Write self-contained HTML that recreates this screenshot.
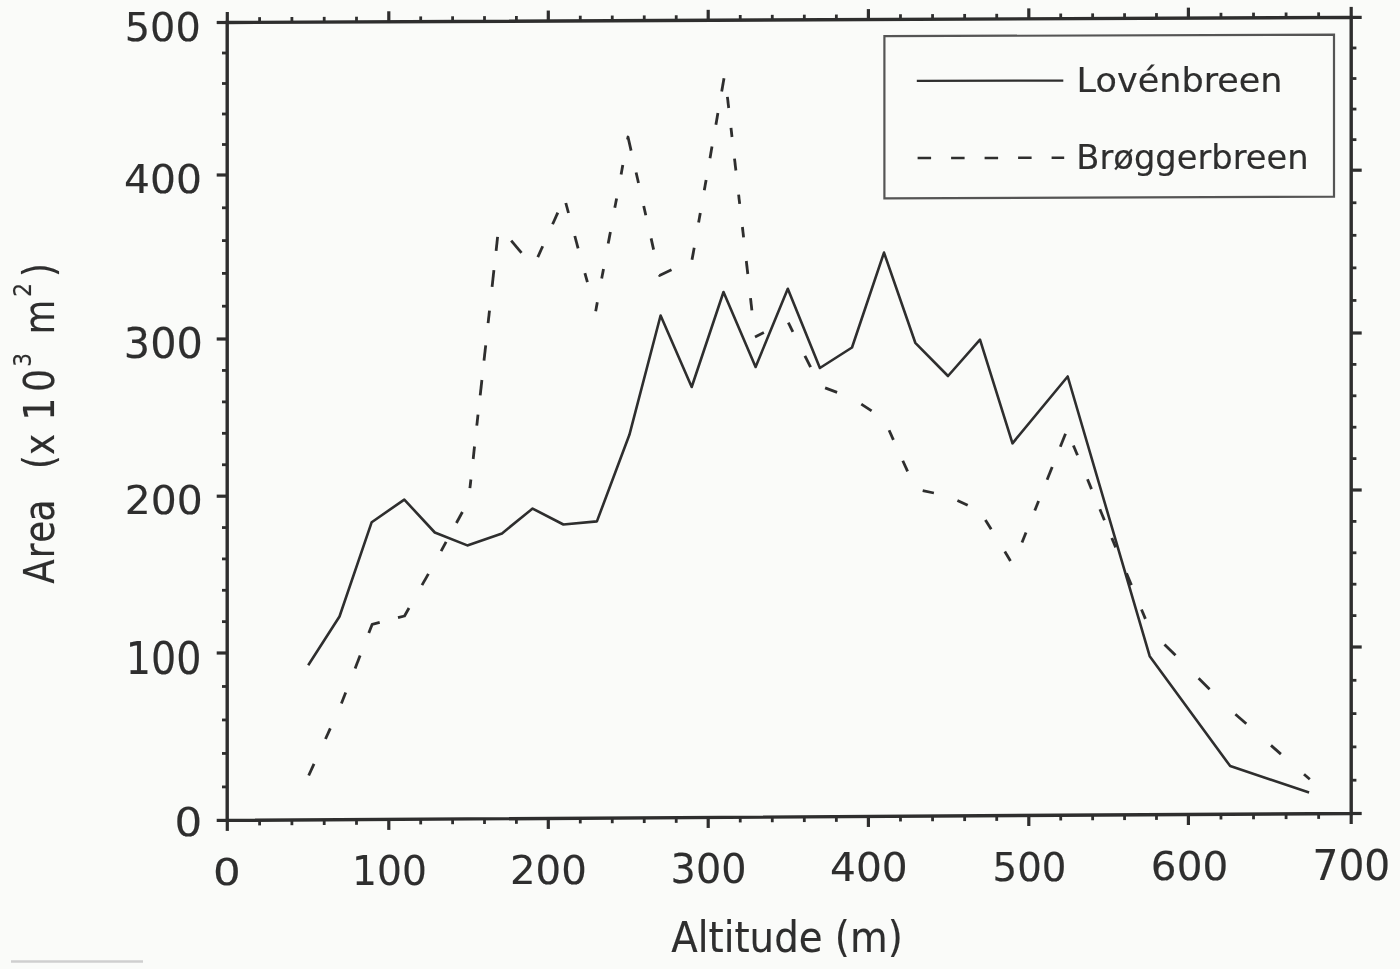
<!DOCTYPE html>
<html><head><meta charset="utf-8"><title>Area-altitude distribution</title>
<style>
html,body{margin:0;padding:0;background:#fafbf9;}
svg{display:block;}
text{font-family:"DejaVu Sans","Liberation Sans",sans-serif;fill:#2e2e2e;stroke:#2e2e2e;stroke-width:0.15px;}
</style></head>
<body>
<svg width="1400" height="969" viewBox="0 0 1400 969">
<rect width="1400" height="969" fill="#fafbf9"/>
<g>
<line x1="11" y1="961.5" x2="143" y2="961.5" stroke="#cfcfcf" stroke-width="2.4"/>
<g stroke="#2e2e2e" stroke-linecap="butt">
<path d="M227.2,22.50 L227.2,820.40 L1351.2,813.50 L1351.2,17.40 Z" fill="none" stroke-width="3.4" stroke-linejoin="miter"/>
<line x1="227.30" y1="820.40" x2="227.30" y2="830.90" stroke-width="3.2"/>
<line x1="227.30" y1="22.50" x2="227.30" y2="12.00" stroke-width="3.2"/>
<line x1="259.60" y1="820.20" x2="259.60" y2="825.40" stroke-width="2.8"/>
<line x1="259.60" y1="22.35" x2="259.60" y2="17.15" stroke-width="2.8"/>
<line x1="291.90" y1="820.00" x2="291.90" y2="825.20" stroke-width="2.8"/>
<line x1="291.90" y1="22.21" x2="291.90" y2="17.01" stroke-width="2.8"/>
<line x1="324.20" y1="819.80" x2="324.20" y2="825.00" stroke-width="2.8"/>
<line x1="324.20" y1="22.06" x2="324.20" y2="16.86" stroke-width="2.8"/>
<line x1="356.50" y1="819.61" x2="356.50" y2="824.81" stroke-width="2.8"/>
<line x1="356.50" y1="21.91" x2="356.50" y2="16.71" stroke-width="2.8"/>
<line x1="388.80" y1="819.41" x2="388.80" y2="829.91" stroke-width="3.2"/>
<line x1="388.80" y1="21.77" x2="388.80" y2="11.27" stroke-width="3.2"/>
<line x1="420.70" y1="819.21" x2="420.70" y2="824.41" stroke-width="2.8"/>
<line x1="420.70" y1="21.62" x2="420.70" y2="16.42" stroke-width="2.8"/>
<line x1="452.60" y1="819.02" x2="452.60" y2="824.22" stroke-width="2.8"/>
<line x1="452.60" y1="21.48" x2="452.60" y2="16.28" stroke-width="2.8"/>
<line x1="484.50" y1="818.82" x2="484.50" y2="824.02" stroke-width="2.8"/>
<line x1="484.50" y1="21.33" x2="484.50" y2="16.13" stroke-width="2.8"/>
<line x1="516.40" y1="818.62" x2="516.40" y2="823.82" stroke-width="2.8"/>
<line x1="516.40" y1="21.19" x2="516.40" y2="15.99" stroke-width="2.8"/>
<line x1="548.30" y1="818.43" x2="548.30" y2="828.93" stroke-width="3.2"/>
<line x1="548.30" y1="21.04" x2="548.30" y2="10.54" stroke-width="3.2"/>
<line x1="580.28" y1="818.23" x2="580.28" y2="823.43" stroke-width="2.8"/>
<line x1="580.28" y1="20.90" x2="580.28" y2="15.70" stroke-width="2.8"/>
<line x1="612.26" y1="818.04" x2="612.26" y2="823.24" stroke-width="2.8"/>
<line x1="612.26" y1="20.75" x2="612.26" y2="15.55" stroke-width="2.8"/>
<line x1="644.24" y1="817.84" x2="644.24" y2="823.04" stroke-width="2.8"/>
<line x1="644.24" y1="20.61" x2="644.24" y2="15.41" stroke-width="2.8"/>
<line x1="676.22" y1="817.64" x2="676.22" y2="822.84" stroke-width="2.8"/>
<line x1="676.22" y1="20.46" x2="676.22" y2="15.26" stroke-width="2.8"/>
<line x1="708.20" y1="817.45" x2="708.20" y2="827.95" stroke-width="3.2"/>
<line x1="708.20" y1="20.32" x2="708.20" y2="9.82" stroke-width="3.2"/>
<line x1="740.24" y1="817.25" x2="740.24" y2="822.45" stroke-width="2.8"/>
<line x1="740.24" y1="20.17" x2="740.24" y2="14.97" stroke-width="2.8"/>
<line x1="772.28" y1="817.05" x2="772.28" y2="822.25" stroke-width="2.8"/>
<line x1="772.28" y1="20.03" x2="772.28" y2="14.83" stroke-width="2.8"/>
<line x1="804.32" y1="816.86" x2="804.32" y2="822.06" stroke-width="2.8"/>
<line x1="804.32" y1="19.88" x2="804.32" y2="14.68" stroke-width="2.8"/>
<line x1="836.36" y1="816.66" x2="836.36" y2="821.86" stroke-width="2.8"/>
<line x1="836.36" y1="19.74" x2="836.36" y2="14.54" stroke-width="2.8"/>
<line x1="868.40" y1="816.46" x2="868.40" y2="826.96" stroke-width="3.2"/>
<line x1="868.40" y1="19.59" x2="868.40" y2="9.09" stroke-width="3.2"/>
<line x1="900.48" y1="816.27" x2="900.48" y2="821.47" stroke-width="2.8"/>
<line x1="900.48" y1="19.45" x2="900.48" y2="14.25" stroke-width="2.8"/>
<line x1="932.56" y1="816.07" x2="932.56" y2="821.27" stroke-width="2.8"/>
<line x1="932.56" y1="19.30" x2="932.56" y2="14.10" stroke-width="2.8"/>
<line x1="964.64" y1="815.87" x2="964.64" y2="821.07" stroke-width="2.8"/>
<line x1="964.64" y1="19.15" x2="964.64" y2="13.95" stroke-width="2.8"/>
<line x1="996.72" y1="815.68" x2="996.72" y2="820.88" stroke-width="2.8"/>
<line x1="996.72" y1="19.01" x2="996.72" y2="13.81" stroke-width="2.8"/>
<line x1="1028.80" y1="815.48" x2="1028.80" y2="825.98" stroke-width="3.2"/>
<line x1="1028.80" y1="18.86" x2="1028.80" y2="8.36" stroke-width="3.2"/>
<line x1="1060.72" y1="815.28" x2="1060.72" y2="820.48" stroke-width="2.8"/>
<line x1="1060.72" y1="18.72" x2="1060.72" y2="13.52" stroke-width="2.8"/>
<line x1="1092.64" y1="815.09" x2="1092.64" y2="820.29" stroke-width="2.8"/>
<line x1="1092.64" y1="18.57" x2="1092.64" y2="13.37" stroke-width="2.8"/>
<line x1="1124.56" y1="814.89" x2="1124.56" y2="820.09" stroke-width="2.8"/>
<line x1="1124.56" y1="18.43" x2="1124.56" y2="13.23" stroke-width="2.8"/>
<line x1="1156.48" y1="814.70" x2="1156.48" y2="819.90" stroke-width="2.8"/>
<line x1="1156.48" y1="18.28" x2="1156.48" y2="13.08" stroke-width="2.8"/>
<line x1="1188.40" y1="814.50" x2="1188.40" y2="825.00" stroke-width="3.2"/>
<line x1="1188.40" y1="18.14" x2="1188.40" y2="7.64" stroke-width="3.2"/>
<line x1="1220.96" y1="814.30" x2="1220.96" y2="819.50" stroke-width="2.8"/>
<line x1="1220.96" y1="17.99" x2="1220.96" y2="12.79" stroke-width="2.8"/>
<line x1="1253.52" y1="814.10" x2="1253.52" y2="819.30" stroke-width="2.8"/>
<line x1="1253.52" y1="17.84" x2="1253.52" y2="12.64" stroke-width="2.8"/>
<line x1="1286.08" y1="813.90" x2="1286.08" y2="819.10" stroke-width="2.8"/>
<line x1="1286.08" y1="17.70" x2="1286.08" y2="12.50" stroke-width="2.8"/>
<line x1="1318.64" y1="813.70" x2="1318.64" y2="818.90" stroke-width="2.8"/>
<line x1="1318.64" y1="17.55" x2="1318.64" y2="12.35" stroke-width="2.8"/>
<line x1="1351.20" y1="813.50" x2="1351.20" y2="824.00" stroke-width="3.2"/>
<line x1="1351.20" y1="17.40" x2="1351.20" y2="6.90" stroke-width="3.2"/>
<line x1="227.20" y1="820.40" x2="216.70" y2="820.40" stroke-width="3.2"/>
<line x1="1351.20" y1="813.50" x2="1361.70" y2="813.50" stroke-width="3.2"/>
<line x1="227.20" y1="786.92" x2="222.00" y2="786.92" stroke-width="2.8"/>
<line x1="1351.20" y1="780.20" x2="1356.40" y2="780.20" stroke-width="2.8"/>
<line x1="227.20" y1="753.44" x2="222.00" y2="753.44" stroke-width="2.8"/>
<line x1="1351.20" y1="746.90" x2="1356.40" y2="746.90" stroke-width="2.8"/>
<line x1="227.20" y1="719.96" x2="222.00" y2="719.96" stroke-width="2.8"/>
<line x1="1351.20" y1="713.60" x2="1356.40" y2="713.60" stroke-width="2.8"/>
<line x1="227.20" y1="686.48" x2="222.00" y2="686.48" stroke-width="2.8"/>
<line x1="1351.20" y1="680.30" x2="1356.40" y2="680.30" stroke-width="2.8"/>
<line x1="227.20" y1="653.00" x2="216.70" y2="653.00" stroke-width="3.2"/>
<line x1="1351.20" y1="647.00" x2="1361.70" y2="647.00" stroke-width="3.2"/>
<line x1="227.20" y1="621.64" x2="222.00" y2="621.64" stroke-width="2.8"/>
<line x1="1351.20" y1="615.60" x2="1356.40" y2="615.60" stroke-width="2.8"/>
<line x1="227.20" y1="590.28" x2="222.00" y2="590.28" stroke-width="2.8"/>
<line x1="1351.20" y1="584.20" x2="1356.40" y2="584.20" stroke-width="2.8"/>
<line x1="227.20" y1="558.92" x2="222.00" y2="558.92" stroke-width="2.8"/>
<line x1="1351.20" y1="552.80" x2="1356.40" y2="552.80" stroke-width="2.8"/>
<line x1="227.20" y1="527.56" x2="222.00" y2="527.56" stroke-width="2.8"/>
<line x1="1351.20" y1="521.40" x2="1356.40" y2="521.40" stroke-width="2.8"/>
<line x1="227.20" y1="496.20" x2="216.70" y2="496.20" stroke-width="3.2"/>
<line x1="1351.20" y1="490.00" x2="1361.70" y2="490.00" stroke-width="3.2"/>
<line x1="227.20" y1="464.76" x2="222.00" y2="464.76" stroke-width="2.8"/>
<line x1="1351.20" y1="458.60" x2="1356.40" y2="458.60" stroke-width="2.8"/>
<line x1="227.20" y1="433.32" x2="222.00" y2="433.32" stroke-width="2.8"/>
<line x1="1351.20" y1="427.20" x2="1356.40" y2="427.20" stroke-width="2.8"/>
<line x1="227.20" y1="401.88" x2="222.00" y2="401.88" stroke-width="2.8"/>
<line x1="1351.20" y1="395.80" x2="1356.40" y2="395.80" stroke-width="2.8"/>
<line x1="227.20" y1="370.44" x2="222.00" y2="370.44" stroke-width="2.8"/>
<line x1="1351.20" y1="364.40" x2="1356.40" y2="364.40" stroke-width="2.8"/>
<line x1="227.20" y1="339.00" x2="216.70" y2="339.00" stroke-width="3.2"/>
<line x1="1351.20" y1="333.00" x2="1361.70" y2="333.00" stroke-width="3.2"/>
<line x1="227.20" y1="306.20" x2="222.00" y2="306.20" stroke-width="2.8"/>
<line x1="1351.20" y1="300.44" x2="1356.40" y2="300.44" stroke-width="2.8"/>
<line x1="227.20" y1="273.40" x2="222.00" y2="273.40" stroke-width="2.8"/>
<line x1="1351.20" y1="267.88" x2="1356.40" y2="267.88" stroke-width="2.8"/>
<line x1="227.20" y1="240.60" x2="222.00" y2="240.60" stroke-width="2.8"/>
<line x1="1351.20" y1="235.32" x2="1356.40" y2="235.32" stroke-width="2.8"/>
<line x1="227.20" y1="207.80" x2="222.00" y2="207.80" stroke-width="2.8"/>
<line x1="1351.20" y1="202.76" x2="1356.40" y2="202.76" stroke-width="2.8"/>
<line x1="227.20" y1="175.00" x2="216.70" y2="175.00" stroke-width="3.2"/>
<line x1="1351.20" y1="170.20" x2="1361.70" y2="170.20" stroke-width="3.2"/>
<line x1="227.20" y1="144.50" x2="222.00" y2="144.50" stroke-width="2.8"/>
<line x1="1351.20" y1="139.64" x2="1356.40" y2="139.64" stroke-width="2.8"/>
<line x1="227.20" y1="114.00" x2="222.00" y2="114.00" stroke-width="2.8"/>
<line x1="1351.20" y1="109.08" x2="1356.40" y2="109.08" stroke-width="2.8"/>
<line x1="227.20" y1="83.50" x2="222.00" y2="83.50" stroke-width="2.8"/>
<line x1="1351.20" y1="78.52" x2="1356.40" y2="78.52" stroke-width="2.8"/>
<line x1="227.20" y1="53.00" x2="222.00" y2="53.00" stroke-width="2.8"/>
<line x1="1351.20" y1="47.96" x2="1356.40" y2="47.96" stroke-width="2.8"/>
<line x1="227.20" y1="22.50" x2="216.70" y2="22.50" stroke-width="3.2"/>
<line x1="1351.20" y1="17.40" x2="1361.70" y2="17.40" stroke-width="3.2"/>
</g>
<polyline points="308.2,665.3 339.5,616.5 371.7,522.2 404.3,499.6 434.8,532.5 467.3,545.4 502.0,533.4 532.6,508.6 563.4,524.5 596.9,521.4 629.4,434.8 660.6,315.5 691.7,387.0 723.5,292.0 755.6,367.0 787.8,288.8 819.9,368.0 852.0,347.5 884.0,252.6 915.3,342.8 948.0,376.0 980.0,339.7 1012.5,443.3 1067.7,376.5 1149.7,656.2 1230.2,766.1 1309.1,792.4" fill="none" stroke="#2e2e2e" stroke-width="2.6" stroke-linejoin="round"/>
<g fill="none" stroke="#2e2e2e" stroke-width="2.8" stroke-linejoin="round" stroke-linecap="butt">
<polyline points="308.7,775.5 314.0,763.9"/>
<polyline points="325.5,739.0 330.3,728.4"/>
<polyline points="341.4,703.5 345.7,692.6"/>
<polyline points="355.1,668.4 360.1,655.4"/>
<polyline points="368.8,633.1 372.2,624.3 379.7,622.4"/>
<polyline points="398.0,617.7 404.5,616.0 409.0,608.0"/>
<polyline points="422.0,585.1 428.4,573.9"/>
<polyline points="441.1,551.2 446.1,541.8"/>
<polyline points="456.4,523.0 462.4,512.0"/>
<polyline points="469.9,488.2 470.9,479.5"/>
<polyline points="473.2,459.0 474.5,446.5"/>
<polyline points="476.8,425.7 478.0,414.7"/>
<polyline points="480.2,395.4 481.9,380.0"/>
<polyline points="484.0,360.7 485.7,345.3"/>
<polyline points="488.1,323.1 489.5,310.7"/>
<polyline points="492.1,286.9 493.9,270.1"/>
<polyline points="496.1,250.8 497.6,236.9"/>
<polyline points="511.2,240.7 521.5,252.9"/>
<polyline points="537.8,257.1 542.7,246.2"/>
<polyline points="552.6,224.2 557.8,212.6"/>
<polyline points="565.8,203.0 568.5,213.0"/>
<polyline points="574.8,236.0 578.1,248.3"/>
<polyline points="584.9,273.1 587.4,282.2"/>
<polyline points="595.7,311.2 597.3,302.2"/>
<polyline points="601.7,278.4 603.5,268.9"/>
<polyline points="608.2,243.6 610.4,232.0"/>
<polyline points="614.8,207.8 616.6,198.6"/>
<polyline points="621.1,174.4 622.8,164.9"/>
<polyline points="627.5,139.5 628.0,137.0 631.1,150.6"/>
<polyline points="636.1,172.5 638.5,183.0"/>
<polyline points="643.7,206.0 645.8,215.3"/>
<polyline points="651.1,238.4 653.6,249.6"/>
<polyline points="659.4,275.0 659.5,275.5 671.5,269.8"/>
<polyline points="692.0,259.7 694.2,247.8"/>
<polyline points="698.6,222.4 700.3,213.1"/>
<polyline points="704.3,190.3 706.1,179.9"/>
<polyline points="710.0,158.2 712.0,146.6"/>
<polyline points="715.9,124.7 717.9,113.1"/>
<polyline points="721.7,91.6 724.0,78.3"/>
<polyline points="727.4,96.9 728.7,108.0"/>
<polyline points="731.0,127.8 732.0,137.0"/>
<polyline points="734.5,158.7 735.9,170.5"/>
<polyline points="738.6,194.6 739.7,203.9"/>
<polyline points="742.4,227.0 743.6,237.4"/>
<polyline points="746.3,261.0 747.8,274.0"/>
<polyline points="750.5,298.2 751.9,310.3"/>
<polyline points="755.0,337.0 755.0,337.0 763.9,332.6"/>
<polyline points="788.3,322.7 792.9,331.9"/>
<polyline points="804.9,355.8 810.6,367.2"/>
<polyline points="825.1,387.9 837.1,392.4"/>
<polyline points="861.3,404.1 871.6,410.8"/>
<polyline points="889.1,430.3 893.4,439.9"/>
<polyline points="902.8,460.7 907.6,471.4"/>
<polyline points="922.7,490.6 933.9,493.0"/>
<polyline points="957.4,500.4 967.7,505.2"/>
<polyline points="985.4,519.9 991.2,529.3"/>
<polyline points="1004.8,551.6 1010.5,560.9"/>
<polyline points="1022.0,542.6 1026.0,532.6"/>
<polyline points="1034.8,510.5 1038.6,501.0"/>
<polyline points="1047.1,479.8 1052.2,466.9"/>
<polyline points="1060.3,446.7 1065.5,433.8"/>
<polyline points="1073.4,445.5 1077.5,455.3"/>
<polyline points="1087.5,479.3 1091.5,489.1"/>
<polyline points="1099.9,509.3 1104.4,520.2"/>
<polyline points="1111.8,538.0 1115.7,547.4"/>
<polyline points="1126.5,573.4 1131.4,585.1"/>
<polyline points="1141.5,609.5 1145.4,618.9"/>
<polyline points="1164.5,644.4 1175.5,655.3"/>
<polyline points="1198.6,678.3 1209.6,689.3"/>
<polyline points="1235.4,714.3 1246.3,723.8"/>
<polyline points="1271.0,745.4 1280.9,754.1"/>
<polyline points="1304.0,774.2 1309.8,779.3"/>
</g>
<path d="M884.4,36.2 L1334.0,34.6 L1334.0,196.6 L884.4,198.4 Z" fill="none" stroke="#555" stroke-width="2.2"/>
<line x1="916.8" y1="80.9" x2="1063.3" y2="80.6" stroke="#2e2e2e" stroke-width="2.3"/>
<line x1="917.6" y1="158.0" x2="1064.2" y2="157.8" stroke="#2e2e2e" stroke-width="2.5" stroke-dasharray="13.5 20"/>
<text x="0" y="0" font-size="40" transform="matrix(0.9944 0 0 0.9933 124.82 40.90)">500</text>
<text x="0" y="0" font-size="40" transform="matrix(1.0208 0 0 0.9633 124.06 193.40)">400</text>
<text x="0" y="0" font-size="40" transform="matrix(1.0352 0 0 1.0867 123.79 357.80)">300</text>
<text x="0" y="0" font-size="40" transform="matrix(1.0225 0 0 0.9767 124.73 514.10)">200</text>
<text x="0" y="0" font-size="40" transform="matrix(0.9914 0 0 1.1167 125.83 673.90)">100</text>
<text x="0" y="0" font-size="40" transform="matrix(1.0900 0 0 0.9633 174.43 835.80)">0</text>
<text x="0" y="0" font-size="40" transform="matrix(1.0900 0 0 0.9533 213.03 884.90)">0</text>
<text x="0" y="0" font-size="40" transform="matrix(0.9800 0 0 1.0100 352.08 884.90)">100</text>
<text x="0" y="0" font-size="40" transform="matrix(1.0070 0 0 0.9900 509.98 883.60)">200</text>
<text x="0" y="0" font-size="40" transform="matrix(0.9944 0 0 1.0033 670.62 883.10)">300</text>
<text x="0" y="0" font-size="40" transform="matrix(1.0181 0 0 0.9700 830.06 881.20)">400</text>
<text x="0" y="0" font-size="40" transform="matrix(0.9676 0 0 0.9900 992.60 881.20)">500</text>
<text x="0" y="0" font-size="40" transform="matrix(1.0127 0 0 0.9900 1150.86 880.10)">600</text>
<text x="0" y="0" font-size="40" transform="matrix(1.0197 0 0 1.0500 1312.44 880.10)">700</text>
<text x="0" y="0" font-size="40" transform="matrix(0.9685 0 0 1.0444 671.23 951.68)">Altitude (m)</text>
<text x="0" y="0" font-size="33" transform="matrix(1.0617 0 0 1.0074 1076.61 91.50)">Lovénbreen</text>
<text x="0" y="0" font-size="33" transform="matrix(1.0221 0 0 1.0121 1076.33 169.22)">Brøggerbreen</text>
<text x="0" y="0" font-size="42.0" transform="translate(54.3 0) rotate(-90) scale(0.85 1)"><tspan x="-686.71" y="0.00">A</tspan><tspan x="-656.89" y="0.00">r</tspan><tspan x="-638.43" y="0.00">e</tspan><tspan x="-613.63" y="0.00">a</tspan>  <tspan x="-551.79" y="0.00">(</tspan><tspan x="-535.23" y="0.00">x</tspan> <tspan x="-494.85" y="0.00">1</tspan><tspan x="-460.94" y="0.00">0</tspan><tspan x="-431.53" y="-23.50" font-size="25.5">3</tspan> <tspan x="-393.58" y="0.00">m</tspan><tspan x="-349.24" y="-23.50" font-size="25.5">2</tspan><tspan x="-325.89" y="0.00">)</tspan></text>
</g>
</svg>
</body></html>
